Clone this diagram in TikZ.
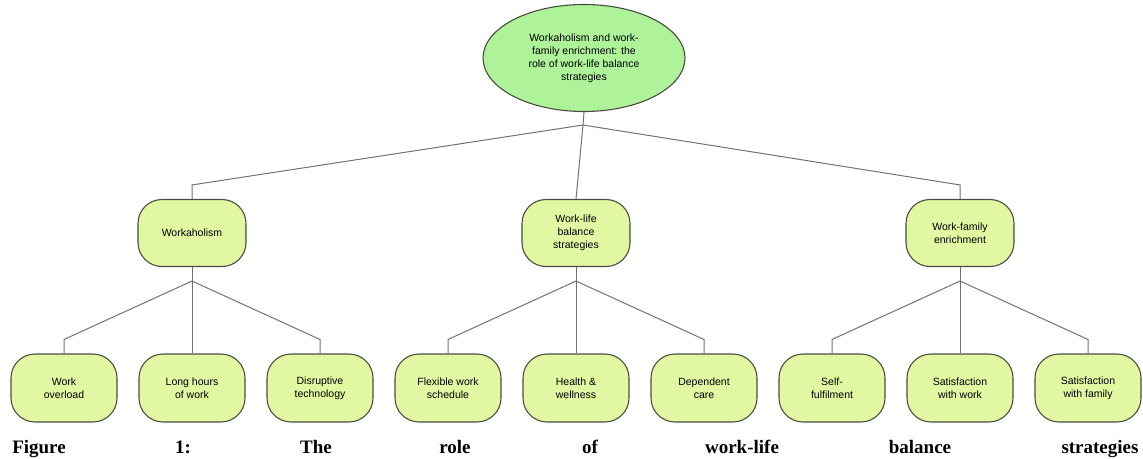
\documentclass[tikz,border=0pt]{standalone}
\usepackage{fontspec}
\setmainfont{Liberation Serif}
\newfontfamily\boxfont{Liberation Sans}
\usepackage{tikz}
\usetikzlibrary{shapes.geometric}

\definecolor{rootgreen}{HTML}{AEF29A}
\definecolor{boxgreen}{HTML}{E2F7A2}
\definecolor{edgegray}{HTML}{4A4D3E}
\definecolor{linegray}{HTML}{707370}

\begin{document}
\begin{tikzpicture}[x=1pt,y=-1pt,
  rootnode/.style={ellipse,draw=edgegray,fill=rootgreen,line width=1.1pt,
    minimum width=202pt,minimum height=107pt,inner sep=0pt,align=center,
    font=\boxfont\fontsize{10.5}{13}\selectfont},
  topicbox/.style={rectangle,rounded corners=24pt,draw=edgegray,fill=boxgreen,
    line width=1.1pt,minimum width=108pt,minimum height=67pt,align=center,
    font=\boxfont\fontsize{10.5}{13}\selectfont},
  itembox/.style={topicbox,minimum width=106pt,minimum height=68pt},
  link/.style={draw=linegray,line width=1pt},
  capword/.style={anchor=base,inner sep=0pt,font=\fontsize{19}{22}\selectfont\bfseries}]
\useasboundingbox (0,0) rectangle (1143,458);

% root
\node[rootnode] (root) at (584,58) {Workaholism and work-\\family enrichment: the\\role of work-life balance\\strategies};

% second level
\node[topicbox] (wkh) at (192,233) {Workaholism};
\node[topicbox] (wlb) at (576,233) {Work-life\\balance\\strategies};
\node[topicbox] (wfe) at (960,233) {Work-family\\enrichment};

% third level
\node[itembox] (ovl) at (64,388) {Work\\overload};
\node[itembox] (lhw) at (192,388) {Long hours\\of work};
\node[itembox] (dtc) at (320,388) {Disruptive\\technology};
\node[itembox] (fws) at (448,388) {Flexible work\\schedule};
\node[itembox] (hwl) at (576,388) {Health \&\\wellness};
\node[itembox] (dpc) at (704,388) {Dependent\\care};
\node[itembox] (sff) at (832,388) {Self-\\fulfilment};
\node[itembox] (sww) at (960,388) {Satisfaction\\with work};
\node[itembox] (swf) at (1088,388) {Satisfaction\\with family};

% junctions
\coordinate (j0) at (583,125);
\coordinate (j1) at ([yshift=-14pt]wkh.south);
\coordinate (j2) at ([yshift=-14pt]wlb.south);
\coordinate (j3) at ([yshift=-14pt]wfe.south);

% connectors
\draw[link] (root.south) -- (j0);
\draw[link] (j0) -- ([yshift=14pt]wkh.north) -- (wkh.north);
\draw[link] (j0) -- (wlb.north);
\draw[link] (j0) -- ([yshift=14pt]wfe.north) -- (wfe.north);

\draw[link] (wkh.south) -- (j1);
\draw[link] (j1) -- ([yshift=14pt]ovl.north) -- (ovl.north);
\draw[link] (j1) -- (lhw.north);
\draw[link] (j1) -- ([yshift=14pt]dtc.north) -- (dtc.north);

\draw[link] (wlb.south) -- (j2);
\draw[link] (j2) -- ([yshift=14pt]fws.north) -- (fws.north);
\draw[link] (j2) -- (hwl.north);
\draw[link] (j2) -- ([yshift=14pt]dpc.north) -- (dpc.north);

\draw[link] (wfe.south) -- (j3);
\draw[link] (j3) -- ([yshift=14pt]sff.north) -- (sff.north);
\draw[link] (j3) -- (sww.north);
\draw[link] (j3) -- ([yshift=14pt]swf.north) -- (swf.north);

% caption
\node[capword] (c1) at (39,453) {Figure};
\node[capword] (c2) at (183,453) {1:};
\node[capword] (c3) at (316,453) {The};
\node[capword] (c4) at (455,453) {role};
\node[capword] (c5) at (590,453) {of};
\node[capword] (c6) at (742,453) {work-life};
\node[capword] (c7) at (920,453) {balance};
\node[capword] (c8) at (1100,453) {strategies};
\end{tikzpicture}
\end{document}
